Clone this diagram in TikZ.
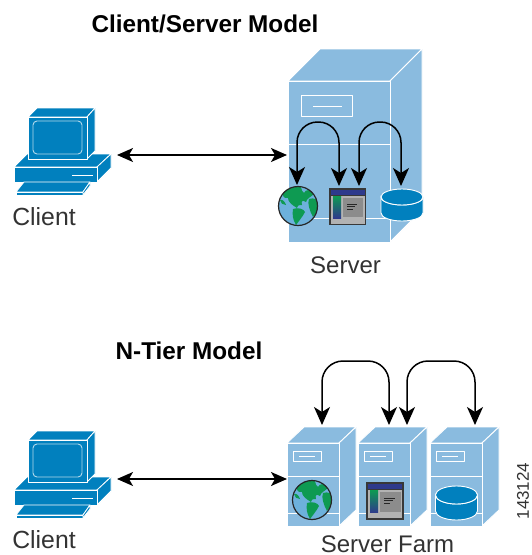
\documentclass[tikz,border=0pt]{standalone}
\usepackage{fontspec}
\setmainfont{Liberation Sans}
\usetikzlibrary{arrows.meta}
\definecolor{srv}{HTML}{8ABBDF}
\definecolor{pc}{HTML}{0180BE}
\definecolor{txt}{HTML}{333333}
\definecolor{ocean}{HTML}{6DB1DC}
\definecolor{land}{HTML}{0E9A52}
\definecolor{navy}{HTML}{2E3A8C}
\tikzset{
  wl/.style={draw=white,line width=0.9pt,line join=round},
  pcface/.style={fill=pc,draw=white,line width=0.8pt,line join=round},
  srvface/.style={fill=srv,draw=white,line width=0.9pt,line join=round},
  link/.style={draw=black,line width=1.4pt,{Stealth[length=16pt,width=14pt,inset=4pt]}-{Stealth[length=16pt,width=14pt,inset=4pt]}},
  loopa/.style={draw=black,line width=1.5pt,rounded corners=20.5pt,{Stealth[length=18pt,width=16pt,inset=5pt]}-{Stealth[length=18pt,width=16pt,inset=5pt]}},
  loopb/.style={draw=black,line width=1.5pt,rounded corners=21pt,{Stealth[length=18pt,width=16pt,inset=5pt]}-{Stealth[length=18pt,width=16pt,inset=5pt]}},
  lab/.style={font=\fontsize{24}{28}\selectfont,text=txt,inner sep=0pt},
  cliab/.style={font=\fontsize{24.8}{28}\selectfont,text=txt,inner sep=0pt},
  head/.style={font=\fontsize{24.3}{28}\selectfont\bfseries,text=black,inner sep=0pt},
}
\newcommand{\pcicon}[1]{%
\begin{scope}[shift={(0,#1)}]
  \path[pcface] (14,167) -- (27,154) -- (111,154) -- (97,167) -- cycle;
  \path[pcface] (97,167) -- (111,154) -- (111,168) -- (97,182) -- cycle;
  \path[pcface] (14,167) rectangle (97,182);
  \draw[white,line width=1pt] (72,175) -- (93,175);
  \path[pcface] (28,117) -- (37,108) -- (95,108) -- (87,117) -- cycle;
  \path[pcface] (87,117) -- (95,108) -- (95,151) -- (87,159) -- cycle;
  \path[pcface] (28,117) rectangle (87,159);
  \draw[draw=white!70!pc,line width=0.9pt,rounded corners=4pt] (33,121) rectangle (82,154);
  \path[pcface] (16,192) -- (24,182) -- (90,182) -- (83,192) -- cycle;
  \path[pcface] (16,192) rectangle (83,195);
  \path[pcface] (83,192) -- (90,182) -- (90,186) -- (83,195) -- cycle;
\end{scope}}
\newcommand{\globeicon}[3]{%
\begin{scope}[shift={(#1,#2)},scale=#3]
  \fill[ocean] (0,0) circle (19.5);
  \begin{scope}
    \clip (0,0) circle (19.5);
    \fill[land] (-16,-12) .. controls (-10,-20) and (-4,-21) .. (2,-20) .. controls (5,-16) and (3,-14) .. (6,-13)
      .. controls (8,-17) and (12,-17) .. (16,-12) .. controls (13,-9) and (9,-8) .. (8,-4)
      .. controls (4,-7) and (3,-4) .. (4,-1) .. controls (0,-1) and (-1,0) .. (-1,2)
      .. controls (-6,-1) and (-10,-4) .. (-10,-8) .. controls (-12,-7) and (-14,-8) .. (-16,-12) -- cycle;
    \fill[land] (-5,3) .. controls (0,1) and (6,3) .. (7,6) .. controls (5,10) and (1,15) .. (-2,19)
      .. controls (-5,14) and (-6,9) .. (-5,3) -- cycle;
    \fill[land] (11,-7) .. controls (16,-9) and (21,-6) .. (21,-2) .. controls (21,2) and (18,7) .. (15,11)
      .. controls (12,6) and (9,-3) .. (11,-7) -- cycle;
    \fill[land] (-18,-6) .. controls (-15,-7) and (-13,-4) .. (-12,-1) .. controls (-15,-1) and (-18,-3) .. (-18,-6) -- cycle;
  \end{scope}
  \draw[black!85,line width=1.2pt] (0,0) circle (19.5);
\end{scope}}
\newcommand{\winicon}[3]{%
\begin{scope}[shift={(#1,#2)},scale=#3]
  \fill[black!78] (0,0) rectangle (37,37);
  \fill[navy] (1.5,1.5) rectangle (35.5,6.5);
  \fill[black!30] (1.5,7.5) rectangle (35.5,35.5);
  \shade[top color=land,bottom color=navy] (4,8) rectangle (12,30);
  \fill[black!45] (14,10) rectangle (34,29);
  \draw[black!85,line width=0.9pt] (18,16) -- (28,16);
  \draw[black!85,line width=0.9pt] (18,18.5) -- (26,18.5);
  \draw[black!85,line width=0.9pt] (18,21) -- (24,21);
\end{scope}}
\newcommand{\dbicon}[4]{%
  \path[fill=pc,draw=white,line width=0.9pt] (#1-#3,#2) -- (#1-#3,#2+16)
    arc[x radius=#3,y radius=#4,start angle=180,end angle=0] -- (#1+#3,#2)
    arc[x radius=#3,y radius=#4,start angle=0,end angle=180] -- cycle;
  \path[fill=pc,draw=white,line width=0.9pt] (#1,#2) ellipse[x radius=#3,y radius=#4];
}
\newcommand{\tower}[1]{%
\begin{scope}[shift={(#1,0)}]
  \path[srvface] (0,443) -- (17,427) -- (69,427) -- (52,443) -- cycle;
  \path[srvface] (52,443) -- (69,427) -- (69,510) -- (52,526) -- cycle;
  \path[srvface] (0,443) rectangle (52,526);
  \path[wl] (6,451) rectangle (34,461);
  \draw[wl] (12,456) -- (28,456);
  \draw[wl] (0,476) -- (52,476);
  \draw[wl] (0,513) -- (52,513);
\end{scope}}
\begin{document}
\begin{tikzpicture}[x=1pt,y=-1pt]
\useasboundingbox (0,0) rectangle (531,555);
\fill[white] (0,0) rectangle (531,555);
% text
\node[head] (title1) at (205,24) {Client/Server Model};
\node[head] (title2) at (189,351) {N-Tier Model};
\node[cliab] (client1) at (44,217) {Client};
\node[lab] (server) at (345.5,265) {Server};
\node[cliab] (client2) at (44,540) {Client};
\node[lab] (farm) at (387.5,544) {Server Farm};
\node[font=\fontsize{17}{20}\selectfont,text=txt,inner sep=0pt,rotate=90] (figno) at (523,491) {143124};
% clients
\pcicon{0}
\pcicon{323}
% big server
\path[srvface] (288,81) -- (320,49) -- (422,49) -- (390,81) -- cycle;
\path[srvface] (390,81) -- (422,49) -- (422,210) -- (390,242) -- cycle;
\path[srvface] (288,81) rectangle (390,242);
\path[wl] (301,95) rectangle (352,116);
\draw[wl] (313,106) -- (342,106);
\draw[wl] (288,144) -- (390,144);
\draw[wl] (288,218) -- (390,218);
\globeicon{298}{206}{1}
\winicon{329}{188}{1}
\dbicon{402}{197}{21}{8}
% farm
\tower{287}
\tower{358}
\tower{430}
\globeicon{312}{500}{1}
\winicon{366}{482}{1.02}
\dbicon{456.5}{495}{21}{9}
% connectors
\coordinate (a1) at (117,155);
\coordinate (a2) at (287,155);
\draw[link] (a1) -- (a2);
\coordinate (b1) at (117,479);
\coordinate (b2) at (287,479);
\draw[link] (b1) -- (b2);
\coordinate (c1) at (297,185);
\coordinate (c2) at (339,186);
\coordinate (c3) at (359,186);
\coordinate (c4) at (401,186);
\draw[loopa] (c1) -- (297,122) -- (339,122) -- (c2);
\draw[loopa] (c3) -- (359,122) -- (401,122) -- (c4);
\coordinate (d1) at (322,425);
\coordinate (d2) at (389,425);
\coordinate (d3) at (407,425);
\coordinate (d4) at (475,425);
\draw[loopb] (d1) -- (322,361) -- (389,361) -- (d2);
\draw[loopb] (d3) -- (407,361) -- (475,361) -- (d4);
\end{tikzpicture}
\end{document}
